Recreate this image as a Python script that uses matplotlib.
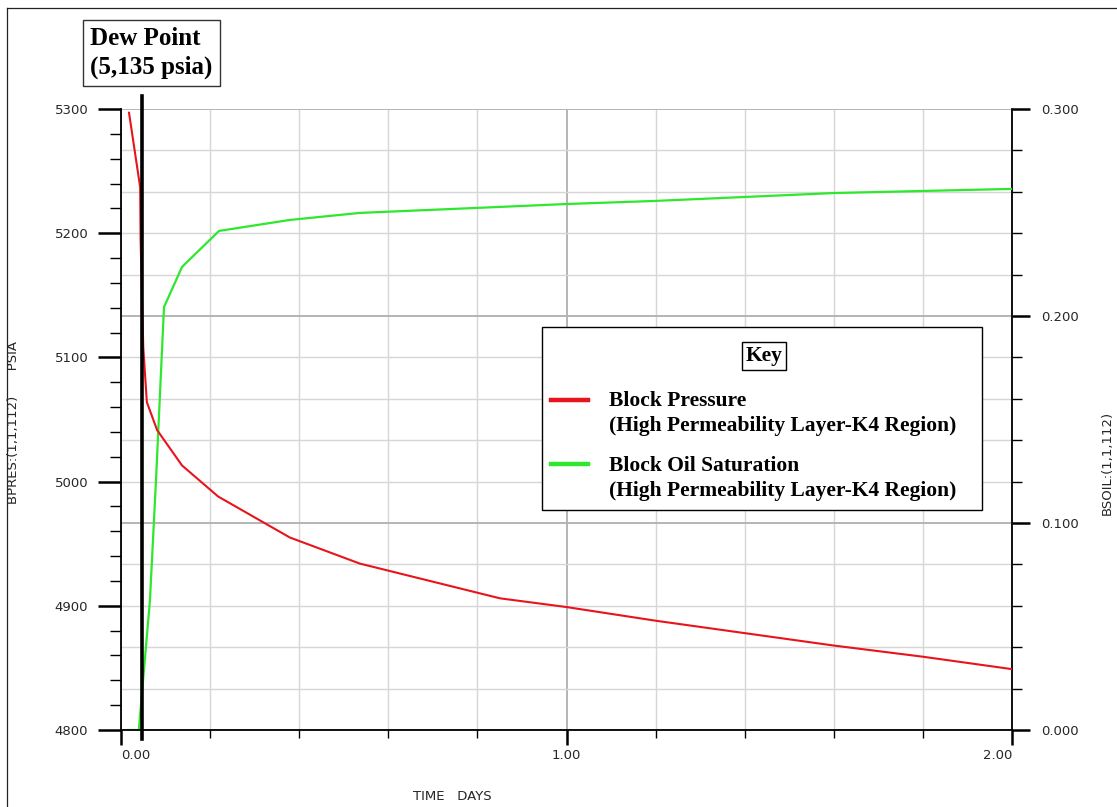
import numpy as np
import matplotlib
matplotlib.use("Agg")
import matplotlib.pyplot as plt
from matplotlib.ticker import MultipleLocator
from matplotlib.lines import Line2D
from matplotlib.legend_handler import HandlerLine2D
from matplotlib.font_manager import FontProperties

# ---------------- data ----------------
time_pres = [0.018, 0.043, 0.044, 0.047, 0.050, 0.058, 0.081, 0.137, 0.218,
             0.379, 0.536, 0.851, 1.0, 1.2, 1.4, 1.6, 1.8, 2.0]
block_pressure = [5297, 5237, 5195, 5150, 5108, 5064, 5041.5, 5013, 4988,
                  4955, 4934, 4906, 4899, 4888, 4878, 4868, 4859, 4849]
time_soil = [0.016, 0.040, 0.065, 0.0786, 0.0965, 0.137, 0.220, 0.379,
             0.536, 0.851, 1.0, 1.2, 1.4, 1.6, 1.8, 2.0]
block_oil_sat = [0.0, 0.0, 0.0628, 0.1208, 0.2043, 0.2237, 0.2411, 0.2464,
                 0.2498, 0.2527, 0.2541, 0.2556, 0.2575, 0.2594, 0.2604, 0.2614]
dew_time = 0.0465
dew_label = "Dew Point\n(5,135 psia)"
x_ticks = [0.0, 1.0, 2.0]
x_tick_labels = ["0.00", "1.00", "2.00"]
p_ticks = [4800, 4900, 5000, 5100, 5200, 5300]
p_tick_labels = ["4800", "4900", "5000", "5100", "5200", "5300"]
s_ticks = [0.0, 0.1, 0.2, 0.3]
s_tick_labels = ["0.000", "0.100", "0.200", "0.300"]
series_labels = ["Block Pressure\n(High Permeability Layer-K4 Region)",
                 "Block Oil Saturation\n(High Permeability Layer-K4 Region)"]
x_label = "TIME   DAYS"
y_left_label = "BPRES:(1,1,112)      PSIA"
y_right_label = "BSOIL:(1,1,112)"
legend_title = "Key"

RED = "#e8141c"
GREEN = "#2ee82e"
W, H = 1117, 807

fig = plt.figure(figsize=(W / 100, H / 100), dpi=100)
fig.patch.set_facecolor("white")
ax = fig.add_axes([121 / W, 1 - 730 / H, (1012 - 121) / W, (730 - 109) / H])
ax2 = ax.twinx()
ax2.set_zorder(1)
ax.set_zorder(2)
ax.patch.set_visible(False)

ax.set_xlim(0, 2.0)
ax.set_ylim(4800, 5300)
ax2.set_ylim(0, 0.3)

# ticks
ax.set_xticks(x_ticks, x_tick_labels)
ax.xaxis.set_minor_locator(MultipleLocator(0.2))
ax.set_yticks(p_ticks, p_tick_labels)
ax.yaxis.set_minor_locator(MultipleLocator(20))
ax2.set_yticks(s_ticks, s_tick_labels)
ax2.yaxis.set_minor_locator(MultipleLocator(0.02))

tick_font = dict(labelsize=9.5, labelcolor="#262626")
ax.tick_params(axis="y", which="major", direction="out", length=16.5, width=1.8, pad=7, **tick_font)
ax.tick_params(axis="y", which="minor", direction="out", length=8, width=1.0)
ax.tick_params(axis="x", which="major", direction="out", length=11, width=1.8, pad=3, **tick_font)
ax.tick_params(axis="x", which="minor", direction="out", length=6, width=1.0)
ax2.tick_params(axis="y", which="major", direction="out", length=13, width=1.8, pad=8, **tick_font)
ax2.tick_params(axis="y", which="minor", direction="out", length=7, width=1.0)
for lbl, ha in zip(ax.get_xticklabels(), ["left", "center", "right"]):
    lbl.set_horizontalalignment(ha)

# grid on the lower axes
ax2.xaxis.set_visible(True)
ax2.tick_params(axis="x", which="both", bottom=False, top=False,
                labelbottom=False, labeltop=False)
ax2.grid(axis="x", which="minor", color="#d6d6d6", lw=1.0)
ax2.grid(axis="x", which="major", color="#b4b4b4", lw=1.4)
ax2.grid(axis="y", which="minor", color="#d6d6d6", lw=1.0)
ax2.grid(axis="y", which="major", color="#b4b4b4", lw=1.4)

for s in ["top", "right"]:
    ax.spines[s].set_visible(False)
for s in ["top", "left", "bottom"]:
    ax2.spines[s].set_visible(False)
for s in ["left", "bottom"]:
    ax.spines[s].set_linewidth(1.3)
ax2.spines["right"].set_linewidth(1.3)

# series
line_s, = ax2.plot(time_soil, block_oil_sat, color=GREEN, lw=1.6, zorder=3)
line_p, = ax.plot(time_pres, block_pressure, color=RED, lw=1.5, zorder=3)
ax.axvline(dew_time, ymin=-0.0145, ymax=1.021, color="black", lw=2.6,
           clip_on=False, zorder=6)

# legend
class FirstLineHandler(HandlerLine2D):
    def __init__(self, shift, lw, **kw):
        super().__init__(**kw)
        self.shift = shift
        self.lw = lw

    def create_artists(self, legend, orig_handle, xdescent, ydescent, width,
                       height, fontsize, trans):
        arts = super().create_artists(legend, orig_handle, xdescent, ydescent,
                                      width, height, fontsize, trans)
        for a in arts:
            if isinstance(a, Line2D):
                a.set_ydata(np.asarray(a.get_ydata()) + self.shift * fontsize)
                a.set_linewidth(self.lw)
        return arts

LEG_FS = 15.5
serif_bold = FontProperties(family="Liberation Serif", weight="bold", size=LEG_FS)
title_space = FontProperties(family="Liberation Serif", weight="bold", size=27)
leg = ax.legend(
    handles=[line_p, line_s], labels=series_labels,
    loc="upper left", bbox_to_anchor=(542 / W, 1 - 327 / H, 440 / W, 0),
    bbox_transform=fig.transFigure, mode="expand", borderaxespad=0,
    title=" ", prop=serif_bold, title_fontproperties=title_space,
    frameon=True, fancybox=False, edgecolor="black", framealpha=1,
    borderpad=0.42, handlelength=1.7, handletextpad=1.0, labelspacing=0.95,
    handler_map={line_p: FirstLineHandler(0.66, 3.2),
                 line_s: FirstLineHandler(0.66, 3.2)})
leg.get_frame().set_linewidth(1.0)
for t in leg.get_texts():
    t.set_linespacing(1.3)
leg.set_zorder(10)
fig.text(764 / W, 1 - 356 / H, legend_title, ha="center", va="center",
         fontproperties=serif_bold, zorder=20,
         bbox=dict(boxstyle="square,pad=0.18", fc="white", ec="black", lw=1.0))

# texts
fig.text(90 / W, 1 - 53 / H, dew_label, ha="left", va="center",
         fontsize=18, fontweight="bold", family="Liberation Serif",
         linespacing=1.3,
         bbox=dict(boxstyle="square,pad=0.3", fc="white", ec="#333333", lw=1.0))
fig.text(452 / W, 1 - 797 / H, x_label, ha="center", va="center",
         fontsize=9.5, color="#262626")
fig.text(14 / W, 1 - 422 / H, y_left_label, ha="center", va="center",
         rotation=90, fontsize=9.5, color="#262626")
fig.text(1107 / W, 1 - 463 / H, y_right_label, ha="center", va="center",
         rotation=90, fontsize=9.5, color="#262626")

# outer frame (top and left edges)
fig.add_artist(Line2D([7 / W, 1], [1 - 8 / H, 1 - 8 / H], transform=fig.transFigure,
                      color="#222222", lw=0.9))
fig.add_artist(Line2D([7 / W, 7 / W], [0, 1 - 8 / H], transform=fig.transFigure,
                      color="#222222", lw=0.9))

fig.savefig("out.png", dpi=100)
